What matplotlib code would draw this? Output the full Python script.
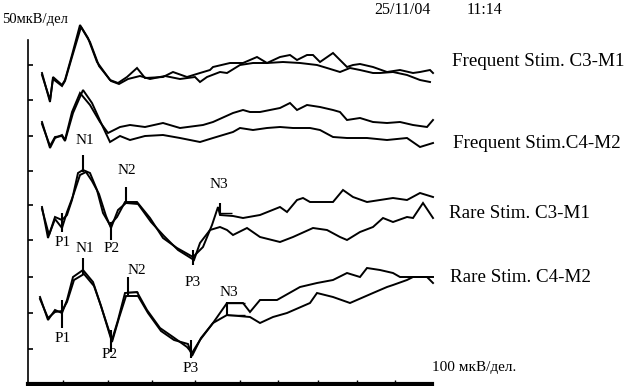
import matplotlib
matplotlib.use("Agg")
import matplotlib.pyplot as plt

# ---- data (time axis units, amplitude units; y grows downward) ----
# Frequent Stim. C3-M1
fc3_a_t = [42, 50, 53, 62, 65, 72, 80, 88, 97, 110, 118, 127, 137, 145, 163, 173, 187, 200, 210, 213, 230, 243, 257, 267, 280, 290, 297, 307, 313, 320, 333, 340, 347, 353, 360, 373, 387, 400, 413, 420, 430, 433]
fc3_a_y = [73, 102, 77, 85, 80, 55, 25, 38, 62, 80, 83, 77, 68, 78, 77, 72, 77, 73, 70, 67, 63, 63, 57, 63, 57, 55, 60, 55, 55, 62, 53, 60, 67, 65, 64, 67, 72, 70, 73, 72, 70, 73]
fc3_b_t = [42, 50, 53, 62, 65, 72, 81, 90, 99, 111, 119, 128, 140, 150, 165, 180, 195, 200, 207, 220, 227, 240, 253, 267, 283, 300, 317, 327, 340, 350, 360, 373, 380, 393, 407, 420, 430]
fc3_b_y = [75, 100, 79, 86, 81, 57, 27, 42, 66, 81, 84, 79, 76, 79, 76, 79, 77, 82, 77, 72, 73, 65, 63, 63, 62, 63, 65, 68, 72, 68, 70, 73, 73, 72, 75, 80, 82]
# Frequent Stim. C4-M2
fc4_a_t = [42, 50, 55, 62, 65, 72, 80, 90, 100, 108, 120, 130, 145, 163, 180, 203, 213, 233, 243, 250, 260, 270, 280, 290, 297, 307, 320, 333, 340, 347, 360, 373, 387, 400, 413, 427, 433]
fc4_a_y = [122, 148, 138, 135, 140, 112, 93, 105, 122, 133, 127, 125, 127, 123, 128, 125, 122, 113, 110, 112, 112, 110, 108, 103, 110, 105, 107, 110, 112, 120, 118, 122, 123, 122, 125, 127, 120]
fc4_b_t = [42, 50, 55, 62, 65, 73, 83, 92, 102, 110, 120, 130, 145, 163, 180, 200, 213, 233, 240, 253, 267, 280, 293, 310, 320, 333, 347, 367, 387, 407, 420, 433]
fc4_b_y = [124, 146, 137, 136, 141, 113, 90, 103, 125, 142, 136, 140, 136, 135, 138, 142, 138, 132, 128, 130, 128, 127, 128, 128, 130, 137, 138, 138, 140, 138, 147, 143]
# Rare Stim. C3-M1
rc3_a_t = [42, 48, 55, 62, 67, 72, 78, 83, 90, 97, 103, 110, 117, 125, 137, 150, 163, 177, 193, 203, 212, 218, 220, 233, 243, 260, 280, 287, 297, 303, 310, 333, 343, 353, 367, 380, 393, 407, 420, 433]
rc3_a_y = [207, 238, 217, 220, 215, 200, 173, 170, 173, 190, 213, 225, 217, 202, 202, 218, 238, 248, 257, 247, 225, 207, 215, 216, 218, 215, 207, 212, 200, 198, 202, 202, 190, 197, 202, 200, 198, 200, 193, 197]
rc3_b_t = [42, 49, 55, 62, 67, 73, 80, 86, 92, 99, 106, 111, 118, 126, 138, 151, 164, 178, 194, 200, 210, 220, 227, 233, 247, 260, 280, 293, 313, 327, 340, 347, 360, 373, 383, 393, 407, 413, 423, 433]
rc3_b_y = [209, 235, 219, 228, 212, 196, 175, 172, 181, 194, 216, 228, 210, 203, 204, 222, 236, 250, 260, 243, 230, 227, 230, 235, 228, 237, 242, 237, 228, 230, 237, 240, 232, 227, 218, 222, 217, 218, 203, 218]
# Rare Stim. C4-M2
rc4_a_t = [40, 48, 55, 62, 67, 73, 83, 93, 100, 112, 118, 125, 137, 147, 160, 173, 187, 192, 200, 213, 227, 243, 250, 260, 277, 300, 317, 333, 347, 360, 367, 380, 393, 400, 413, 433]
rc4_a_y = [297, 320, 310, 313, 300, 277, 270, 282, 303, 340, 320, 293, 292, 310, 328, 337, 347, 353, 340, 323, 303, 303, 312, 300, 300, 287, 283, 280, 273, 277, 268, 270, 273, 277, 277, 277]
rc4_b_t = [40, 48, 55, 62, 67, 74, 84, 94, 101, 112, 119, 126, 138, 148, 161, 174, 188, 192, 201, 213, 227, 250, 260, 273, 287, 310, 317, 333, 350, 373, 387, 393, 407, 413, 427, 433]
rc4_b_y = [299, 318, 312, 311, 302, 280, 274, 286, 306, 342, 318, 296, 296, 313, 331, 340, 344, 356, 338, 323, 315, 317, 323, 317, 313, 303, 293, 297, 303, 293, 287, 285, 280, 277, 277, 283]

# peak markers
peak_labels = ["N1", "N2", "N3", "P1", "P2", "P3", "N1", "N2", "N3", "P1", "P2", "P3"]
peak_x = [83, 126, 220, 62, 111, 193, 83, 128, 227, 62, 111, 191]
peak_y0 = [155, 187, 203, 213, 222, 250, 258, 277, 302, 300, 330, 340]
peak_y1 = [172, 203, 215, 232, 240, 265, 275, 295, 315, 328, 352, 358]
label_x = [85, 127, 219, 63, 112, 193, 85, 137, 229, 63, 110, 191]
label_y = [140, 171, 184, 243, 248, 282, 249, 270, 292, 339, 355, 368]

trace_names = ["Frequent Stim. C3-M1", "Frequent Stim.C4-M2", "Rare Stim. C3-M1", "Rare Stim. C4-M2"]
trace_name_x = [452, 453, 449, 450]
trace_name_y = [62, 143, 213, 278]

left_ticks = [65, 100, 136, 171, 205, 240, 277, 313, 349]
bottom_ticks = [63, 108, 152, 195, 240, 278, 318, 357, 395]

fig = plt.figure(figsize=(6.26, 3.86), dpi=100)
ax = fig.add_axes([0, 0, 1, 1])
ax.set_xlim(0, 626)
ax.set_ylim(386, 0)
ax.axis("off")

lw = 1.4
for t, y in [(fc3_a_t, fc3_a_y), (fc3_b_t, fc3_b_y), (fc4_a_t, fc4_a_y), (fc4_b_t, fc4_b_y),
             (rc3_a_t, rc3_a_y), (rc3_b_t, rc3_b_y), (rc4_a_t, rc4_a_y), (rc4_b_t, rc4_b_y)]:
    ax.plot(t, y, color="black", lw=lw, solid_joinstyle="miter")

# axes frame
ax.plot([28, 28], [40, 384], color="black", lw=1.2)
ax.hlines(left_ticks, 28, 33, color="black", lw=1.2)
ax.plot([28, 432], [384, 384], color="black", lw=3)
ax.vlines(bottom_ticks, 380, 384, color="black", lw=1)

ser = ["Liberation Serif"]
for lab, x, y0, y1, lx, ly in zip(peak_labels, peak_x, peak_y0, peak_y1, label_x, label_y):
    ax.vlines(x, y0, y1, color="black", lw=1.5)
    ax.text(lx, ly, lab, ha="center", va="center", fontsize=11, family=ser)

# horizontal markers
ax.hlines([213], 220, 232, color="black", lw=1)
ax.hlines([303, 315], 227, 245, color="black", lw=1)
ax.hlines([292], 128, 138, color="black", lw=1)

for name, x, y in zip(trace_names, trace_name_x, trace_name_y):
    ax.text(x, y, name, ha="left", va="center", fontsize=13.7, family=ser)

ax.text(374, 10, "25/11/04", ha="left", va="center", fontsize=11.5, family=ser)
ax.text(467, 10, "11:14", ha="left", va="center", fontsize=11.5, family=ser)
ax.text(2, 19, "50мкВ/дел", ha="left", va="center", fontsize=10.5, family=ser)
ax.text(432, 367, "100 мкВ/дел.", ha="left", va="center", fontsize=11, family=ser)

fig.savefig("out.png", dpi=100)
